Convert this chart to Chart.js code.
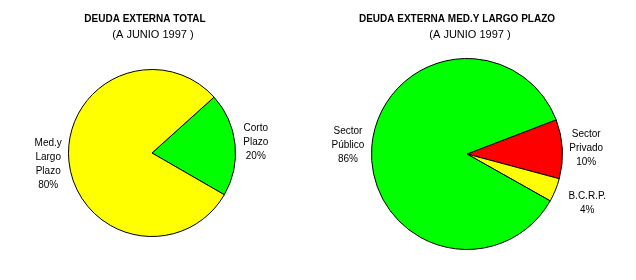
<!DOCTYPE html>
<html>
<head>
<meta charset="utf-8">
<script src="https://cdn.jsdelivr.net/npm/chart.js@4.4.0/dist/chart.umd.min.js"></script>
<style>
  html, body { margin: 0; padding: 0; background: #fff; }
  #wrap { position: relative; width: 636px; height: 280px; }
  canvas { position: absolute; top: 0; }
  #left { left: 0; }
  #right { left: 318px; }
</style>
</head>
<body>
<div id="wrap">
  <canvas id="left" width="318" height="280"></canvas>
  <canvas id="right" width="318" height="280"></canvas>
</div>
<script>
// left chart: total external debt
const totalTitle = "DEUDA EXTERNA TOTAL";
const totalSub = "(A JUNIO 1997 )";
const totalCats = [["Corto", "Plazo"], ["Med.y", "Largo", "Plazo"]];
const totalValues = [20, 80];
const totalColors = ["#00ff00", "#ffff00"];

// right chart: medium and long term debt
const mlpTitle = "DEUDA EXTERNA MED.Y LARGO PLAZO";
const mlpSub = "(A JUNIO 1997 )";
const mlpCats = [["Sector", "Privado"], ["B.C.R.P."], ["Sector", "Público"]];
const mlpValues = [10, 4, 86];
const mlpColors = ["#ff0000", "#ffff00", "#00ff00"];

const FONT = "'Liberation Sans', Arial, sans-serif";

// draws the titles and the outside slice labels
const pieText = {
  id: "pieText",
  afterDatasetsDraw(chart, args, opts) {
    const ctx = chart.ctx;
    ctx.save();
    ctx.fillStyle = "#000";
    ctx.textAlign = "center";
    ctx.textBaseline = "middle";

    ctx.font = "bold 10px " + FONT;
    ctx.fillText(opts.title, opts.titleX, 19);
    ctx.font = "11px " + FONT;
    ctx.fillText(opts.sub, opts.subX, 35);

    ctx.font = "10px " + FONT;
    const meta = chart.getDatasetMeta(0);
    const values = chart.data.datasets[0].data;
    meta.data.forEach((arc, i) => {
      const mid = (arc.startAngle + arc.endAngle) / 2;
      const dist = arc.outerRadius * ((opts.dist && opts.dist[i]) || 1.25);
      const lx = arc.x + Math.cos(mid) * dist;
      const ly = arc.y + Math.sin(mid) * dist;
      const lines = [...chart.data.labels[i], values[i] + "%"];
      const lh = 14;
      const top = ly - ((lines.length - 1) * lh) / 2;
      lines.forEach((t, j) => ctx.fillText(t, lx, top + j * lh));
    });
    ctx.restore();
  },
};

function makePie(id, cats, values, colors, rotation, padding, text) {
  return new Chart(document.getElementById(id), {
    type: "pie",
    data: {
      labels: cats,
      datasets: [
        {
          data: values,
          backgroundColor: colors,
          borderColor: "#000",
          borderWidth: 1,
          hoverOffset: 0,
        },
      ],
    },
    options: {
      responsive: false,
      animation: false,
      events: [],
      rotation: rotation,
      layout: { padding: padding },
      plugins: {
        legend: { display: false },
        tooltip: { enabled: false },
        pieText: text,
      },
    },
    plugins: [pieText],
  });
}

makePie("left", totalCats, totalValues, totalColors, 48,
  { left: 68, right: 82, top: 69, bottom: 43 },
  { title: totalTitle, sub: totalSub, titleX: 145, subX: 153 });

makePie("right", mlpCats, mlpValues, mlpColors, 69,
  { left: 53, right: 73, top: 58, bottom: 30 },
  { title: mlpTitle, sub: mlpSub, titleX: 139, subX: 152, dist: [1.25, 1.36, 1.25] });
</script>
</body>
</html>
